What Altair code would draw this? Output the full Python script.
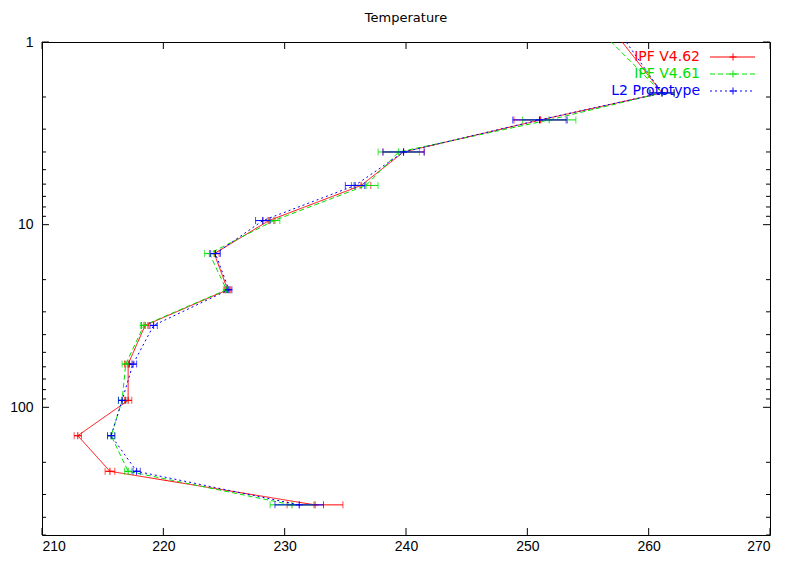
import altair as alt
import pandas as pd

# ---- data ----
pressure = [0.6, 1.9, 2.67, 4.0, 6.1, 9.5, 14.4, 22.7, 35.6, 58.0, 91.6, 143.0, 224.0, 342.0]

t_v462 = [255.2, 261.1, 251.1, 239.8, 236.3, 228.7, 224.2, 225.3, 218.5, 217.1, 217.1, 212.95, 215.6, 232.5]
e_v462 = [2.5, 1.0, 2.2, 1.7, 0.8, 0.5, 0.4, 0.25, 0.3, 0.3, 0.3, 0.3, 0.4, 2.3]

t_v461 = [253.6, 261.1, 251.8, 239.4, 236.7, 229.1, 223.8, 225.2, 218.4, 216.9, 216.6, 215.7, 217.1, 230.6]
e_v461 = [2.5, 1.0, 2.2, 1.7, 1.0, 0.5, 0.4, 0.25, 0.3, 0.3, 0.3, 0.3, 0.3, 1.8]

t_l2 = [255.8, 261.1, 251.0, 239.8, 235.8, 228.2, 224.3, 225.4, 219.2, 217.5, 216.6, 215.7, 217.8, 231.2]
e_l2 = [2.5, 1.0, 2.2, 1.7, 0.8, 0.6, 0.4, 0.25, 0.3, 0.3, 0.3, 0.3, 0.3, 2.0]

series_names = ["IPF V4.62", "IPF V4.61", "L2 Prototype"]
series_temps = [t_v462, t_v461, t_l2]
series_errs = [e_v462, e_v461, e_l2]
series_colors = ["#ff0000", "#00e000", "#0000ff"]
series_dash = [[1, 0], [5, 3], [2, 3]]

x_tick_values = [210, 220, 230, 240, 250, 260, 270]
y_label_values = [1, 10, 100]
y_minor_values = [2, 3, 4, 5, 6, 7, 8, 9, 20, 30, 40, 50, 60, 70, 80, 90, 200, 300, 400, 500]

W, H = 728, 493
FONT = "DejaVu Sans"
TICKFONT = "Liberation Sans"

xs = alt.Scale(domain=[210, 270], nice=False, zero=False)
ys = alt.Scale(type="log", domain=[1, 500], reverse=True, nice=False)
xaxis = alt.Axis(values=x_tick_values, ticks=False, tickSize=0, domain=False, grid=False,
                 labelPadding=4, labelFontSize=14, labelFont=TICKFONT, labelColor="black",
                 title=None)
yaxis = alt.Axis(values=y_label_values, ticks=False, tickSize=0, domain=False, grid=False,
                 labelPadding=9, labelFontSize=14, labelFont=TICKFONT, labelColor="black",
                 format="d", title=None)

layers = []

for name, temps, errs, col, dash in zip(series_names, series_temps, series_errs,
                                        series_colors, series_dash):
    df = pd.DataFrame({
        "p": pressure,
        "t": temps,
        "lo": [t - e for t, e in zip(temps, errs)],
        "hi": [t + e for t, e in zip(temps, errs)],
    })
    base = alt.Chart(df)
    y_enc = alt.Y("p:Q", scale=ys, axis=yaxis)
    layers.append(base.mark_line(clip=True, color=col, strokeWidth=1, strokeDash=dash).encode(
        x=alt.X("t:Q", scale=xs, axis=xaxis), y=y_enc, order=alt.Order("p:Q")))
    layers.append(base.mark_rule(clip=True, color=col, strokeWidth=1).encode(
        x=alt.X("lo:Q", scale=xs, axis=xaxis), x2="hi:Q", y=y_enc))
    layers.append(base.mark_tick(clip=True, color=col, orient="vertical", size=7, thickness=1).encode(
        x=alt.X("lo:Q", scale=xs, axis=xaxis), y=y_enc))
    layers.append(base.mark_tick(clip=True, color=col, orient="vertical", size=7, thickness=1).encode(
        x=alt.X("hi:Q", scale=xs, axis=xaxis), y=y_enc))
    layers.append(base.mark_point(clip=True, color=col, shape="M-1,0L1,0M0,-1L0,1",
                                  filled=False, size=50, strokeWidth=1, opacity=1).encode(
        x=alt.X("t:Q", scale=xs, axis=xaxis), y=y_enc))

# inward ticks on all four sides
xt = alt.Chart(pd.DataFrame({"v": x_tick_values}))
layers.append(xt.mark_rule(color="black", strokeWidth=1).encode(
    x=alt.X("v:Q", scale=xs, axis=xaxis), y=alt.value(H), y2=alt.value(H - 7)))
layers.append(xt.mark_rule(color="black", strokeWidth=1).encode(
    x=alt.X("v:Q", scale=xs, axis=xaxis), y=alt.value(0), y2=alt.value(7)))

ymaj = alt.Chart(pd.DataFrame({"v": y_label_values}))
ymin = alt.Chart(pd.DataFrame({"v": y_minor_values}))
for src, ln in ((ymaj, 7), (ymin, 4)):
    layers.append(src.mark_rule(color="black", strokeWidth=1).encode(
        y=alt.Y("v:Q", scale=ys, axis=yaxis), x=alt.value(0), x2=alt.value(ln)))
    layers.append(src.mark_rule(color="black", strokeWidth=1).encode(
        y=alt.Y("v:Q", scale=ys, axis=yaxis), x=alt.value(W), x2=alt.value(W - ln)))

# key (text left of sample, gnuplot style)
for i, (name, col, dash) in enumerate(zip(series_names, series_colors, series_dash)):
    ry = 15 + 17 * i
    kd = alt.Chart(pd.DataFrame({"label": [name]}))
    layers.append(kd.mark_text(align="right", baseline="middle", fontSize=14, font=FONT,
                               color=col).encode(
        text="label:N", x=alt.value(658), y=alt.value(ry)))
    layers.append(kd.mark_rule(color=col, strokeWidth=1, strokeDash=dash).encode(
        x=alt.value(668), x2=alt.value(713), y=alt.value(ry)))
    layers.append(kd.mark_point(color=col, shape="M-1,0L1,0M0,-1L0,1", filled=False,
                                size=50, strokeWidth=1, opacity=1).encode(
        x=alt.value(691), y=alt.value(ry)))

chart = alt.layer(*layers).properties(
    width=W,
    height=H,
    title=alt.Title("Temperature", fontSize=13, fontWeight="normal", font=FONT,
                    color="black", offset=10),
    autosize=alt.AutoSizeParams(type="none"),
    padding={"left": 34, "top": 34, "right": 12, "bottom": 18},
    background="white",
).configure_view(stroke="black", strokeWidth=1)

chart.save("out.html", embed_options={"renderer": "svg", "actions": False})
